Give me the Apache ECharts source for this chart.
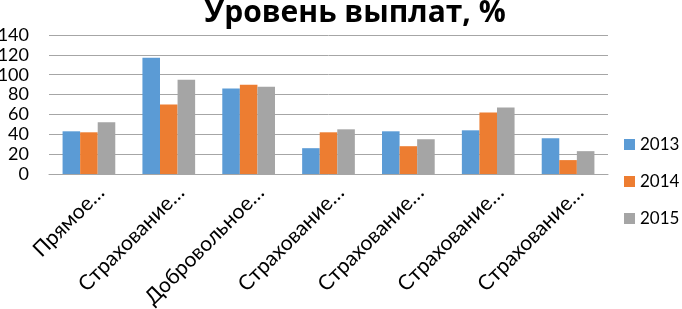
<!DOCTYPE html>
<html><head><meta charset="utf-8">
<script src="https://cdn.jsdelivr.net/npm/echarts@6/dist/echarts.min.js"></script>
<style>html,body{margin:0;padding:0;background:#fff}#c{width:682px;height:309px}</style>
</head><body><div id="c"></div>
<script>
const categories = ["Прямое…", "Страхование…", "Добровольное…", "Страхование…", "Страхование…", "Страхование…", "Страхование…"];
const s2013 = [43, 117, 86, 26, 43, 44, 36];
const s2014 = [42, 70, 90, 42, 28, 62, 14];
const s2015 = [52, 95, 88, 45, 35, 67, 23];
const seriesNames = ["2013", "2014", "2015"];
const colors = ["#5B9BD5", "#ED7D31", "#A5A5A5"];
const FONT = "Lato";
const chart = echarts.init(document.getElementById('c'), null, {renderer: 'canvas'});
const data = [s2013, s2014, s2015];
chart.setOption({
  animation: false,
  title: {text: "Уровень выплат, %", left: 350, textAlign: 'center', top: -7,
    textStyle: {fontFamily: "Open Sans", fontWeight: 'bold', fontSize: 30, color: '#000'}},
  grid: {left: 49, right: 74, top: 35, bottom: 135, outerBoundsMode: 'none', containLabel: false},
  legend: {orient: 'vertical', left: 619, top: 131, itemWidth: 11, itemHeight: 11, itemGap: 20,
    icon: 'rect', textStyle: {fontFamily: FONT, fontSize: 17, color: '#000'}, data: seriesNames},
  xAxis: {type: 'category', data: categories,
    axisLine: {lineStyle: {color: '#a6a6a6'}}, axisTick: {show: false},
    axisLabel: {rotate: 45, interval: 0, margin: 27, padding: [0, -17, 0, 0], fontFamily: FONT, fontSize: 21, color: '#000'}},
  yAxis: {type: 'value', min: 0, max: 140, interval: 20,
    axisLine: {show: false}, axisTick: {show: false},
    splitLine: {lineStyle: {color: '#a6a6a6', width: 1}},
    axisLabel: {margin: 20, fontFamily: FONT, fontSize: 18, color: '#000'}},
  series: data.map((d, i) => ({name: seriesNames[i], type: 'bar', data: d,
    barGap: '0%', barCategoryGap: '34%', itemStyle: {color: colors[i]}}))
});
</script></body></html>
